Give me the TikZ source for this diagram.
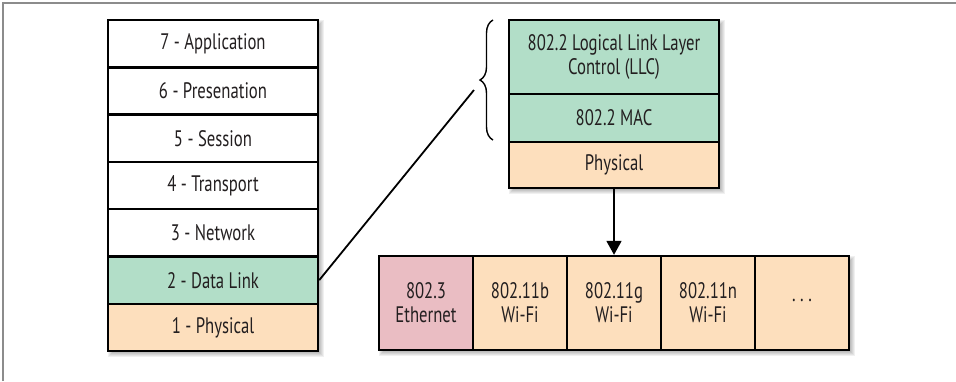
\documentclass[tikz,border=0pt]{standalone}
\usepackage{fontspec}
\setmainfont{PT Sans}[FakeStretch=0.745]
\usetikzlibrary{decorations.pathreplacing,arrows.meta}
\definecolor{llgreen}{RGB}{178,222,200}
\definecolor{llpeach}{RGB}{253,223,189}
\definecolor{llpink}{RGB}{234,189,195}
\definecolor{framegray}{RGB}{140,140,140}
\definecolor{ink}{RGB}{35,31,32}
\newcommand\boxshadow[4]{%
  \foreach \e in {0,...,6}{\fill[black,opacity=0.06] (#1+6-\e,#2+6-\e) rectangle (#3+\e,#4+\e);}}
\begin{document}
\begin{tikzpicture}[x=1bp,y=-1bp,
  layer/.style={draw=black, line width=2.4bp, inner sep=0pt, text=ink,
    font=\fontsize{22.5}{24}\selectfont, align=center},
  osi/.style={layer, minimum width=210bp, minimum height=47.3bp},
  sub/.style={layer, minimum width=210bp},
  phys/.style={layer, fill=llpeach, minimum width=94bp, minimum height=94bp},
  conn/.style={draw=black, line width=1.8bp}]
\useasboundingbox (0,0) rectangle (956,381);
\draw[framegray, line width=1.2bp] (3,381) -- (3,3) -- (956,3);
% shadows
\boxshadow{108}{20}{318}{351}
\boxshadow{509}{20}{719}{188}
\boxshadow{379}{256}{849}{350}
% OSI stack
\node[osi, fill=white] (l7) at (213,43.65) {7 - Application};
\node[osi, fill=white] (l6) at (213,90.95) {6 - Presenation};
\node[osi, fill=white] (l5) at (213,138.25) {5 - Session};
\node[osi, fill=white] (l4) at (213,185.55) {4 - Transport};
\node[osi, fill=white] (l3) at (213,232.85) {3 - Network};
\node[osi, fill=llgreen] (l2) at (213,280.15) {2 - Data Link};
\node[osi, fill=llpeach] (l1) at (213,327.45) {1 - Physical};
% 802 stack
\node[sub, fill=llgreen, minimum height=74bp] (llc) at (614,57) {802.2 Logical Link Layer\\Control (LLC)};
\node[sub, fill=llgreen, minimum height=48bp] (mac) at (614,118) {802.2 MAC};
\node[sub, fill=llpeach, minimum height=46bp] (phy) at (614,165) {Physical};
% physical variants
\node[phys, fill=llpink] (b1) at (426,303) {802.3\\Ethernet};
\node[phys] (b2) at (520,303) {802.11b\\Wi-Fi};
\node[phys] (b3) at (614,303) {802.11g\\Wi-Fi};
\node[phys] (b4) at (708,303) {802.11n\\Wi-Fi};
\node[phys] (b5) at (802,303) {\raisebox{6bp}{.\hspace{4.5bp}.\hspace{4.5bp}.}};
% brace
\draw[black, line width=1.4bp, decorate, decoration={brace, amplitude=13bp}] (493,140) -- (493,20);
% connectors
\coordinate (lineend) at (474,90);
\draw[conn] (l2.east) -- (lineend);
\draw[conn, -{Triangle[length=14bp,width=15bp]}] (phy.south) -- (b3.north);
\end{tikzpicture}
\end{document}
